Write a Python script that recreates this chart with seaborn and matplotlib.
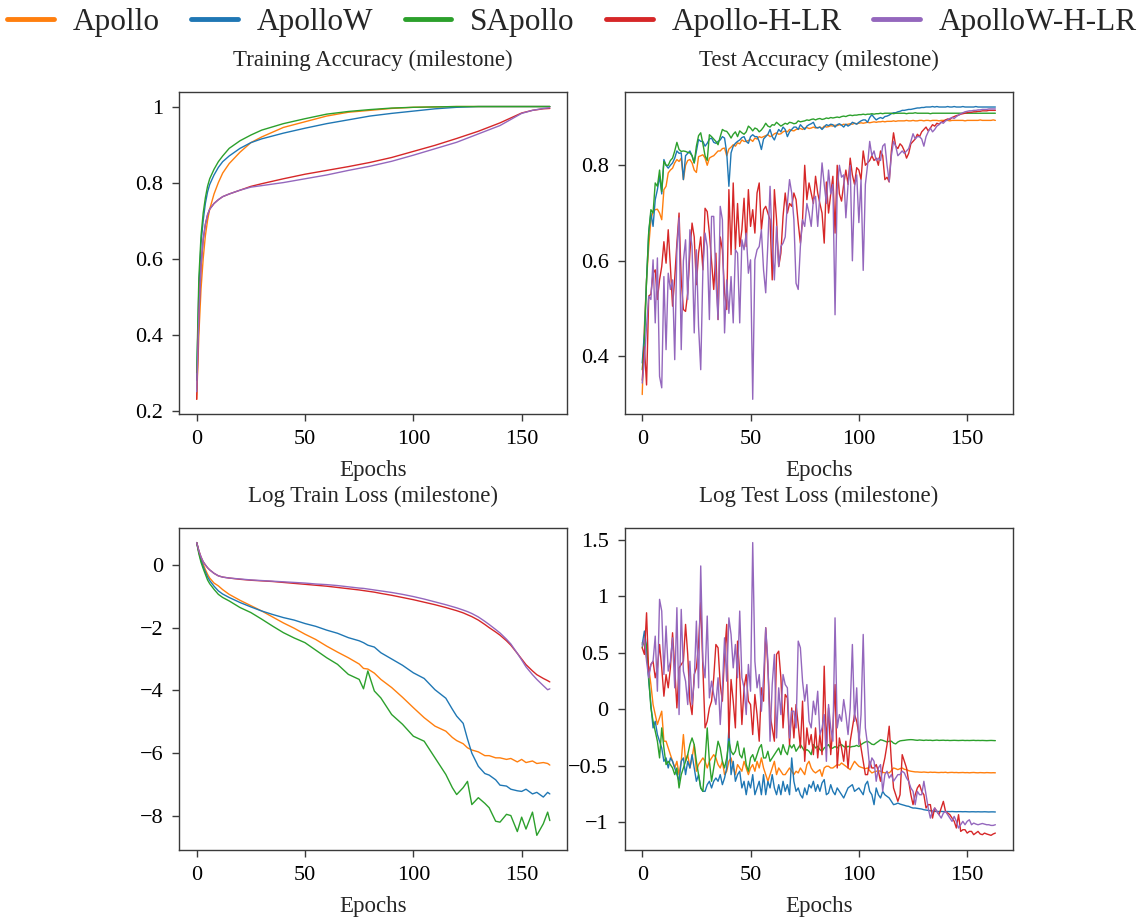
import numpy as np
import pandas as pd
import matplotlib
matplotlib.use("Agg")
import matplotlib.pyplot as plt
import seaborn as sns
from matplotlib.ticker import FuncFormatter

# ---------------- data ----------------
METHODS = ["Apollo", "ApolloW", "SApollo", "Apollo-H-LR", "ApolloW-H-LR"]
COLORS = ["#ff7f0e", "#1f77b4", "#2ca02c", "#d62728", "#9467bd"]

EPOCHS = list(range(164))

# Training accuracy (sampled epochs)
ACC_EP = [0, 1, 2, 3, 4, 5, 6, 8, 10, 12, 15, 20, 25, 30, 40, 50, 60, 70, 80, 90, 100,
          110, 120, 130, 140, 150, 155, 160, 163]
TRAIN_ACC_APOLLO = [0.23, 0.40, 0.52, 0.60, 0.66, 0.70, 0.73, 0.77, 0.80, 0.825, 0.85,
                    0.88, 0.905, 0.92, 0.945, 0.96, 0.975, 0.985, 0.99, 0.995, 0.998,
                    0.999, 1.0, 1.0, 1.0, 1.0, 1.0, 1.0, 1.0]
TRAIN_ACC_APOLLOW = [0.28, 0.52, 0.64, 0.70, 0.745, 0.775, 0.795, 0.82, 0.84, 0.855, 0.87,
                     0.89, 0.905, 0.915, 0.93, 0.943, 0.955, 0.965, 0.975, 0.982, 0.988,
                     0.994, 0.998, 1.0, 1.0, 1.0, 1.0, 1.0, 1.0]
TRAIN_ACC_SAPOLLO = [0.30, 0.55, 0.66, 0.72, 0.76, 0.79, 0.81, 0.835, 0.855, 0.87, 0.89,
                     0.91, 0.925, 0.938, 0.955, 0.968, 0.98, 0.987, 0.992, 0.996, 0.998,
                     0.999, 1.0, 1.0, 1.0, 1.0, 1.0, 1.0, 1.0]
TRAIN_ACC_HLR = [0.23, 0.45, 0.58, 0.65, 0.69, 0.715, 0.73, 0.745, 0.755, 0.763, 0.77,
                 0.78, 0.79, 0.797, 0.81, 0.822, 0.832, 0.842, 0.853, 0.866, 0.882,
                 0.898, 0.916, 0.935, 0.957, 0.983, 0.99, 0.994, 0.995]
TRAIN_ACC_WHLR = [0.25, 0.45, 0.58, 0.65, 0.69, 0.715, 0.73, 0.745, 0.755, 0.763, 0.77,
                  0.78, 0.788, 0.792, 0.80, 0.81, 0.82, 0.832, 0.843, 0.856, 0.872,
                  0.889, 0.906, 0.928, 0.95, 0.982, 0.99, 0.995, 0.997]

# Test accuracy (every epoch)
TEST_ACC_APOLLO = [
    0.32, 0.463, 0.56, 0.63, 0.686, 0.704, 0.707, 0.708, 0.70, 0.686,
    0.749, 0.756, 0.784, 0.79, 0.794, 0.805, 0.812, 0.808, 0.815, 0.77,
    0.80, 0.81, 0.812, 0.805, 0.79, 0.785, 0.818, 0.82, 0.822, 0.815,
    0.80, 0.815, 0.818, 0.82, 0.825, 0.83, 0.83, 0.835, 0.836, 0.82,
    0.834, 0.838, 0.843, 0.84, 0.847, 0.845, 0.853, 0.85, 0.85, 0.852,
    0.854, 0.85, 0.857, 0.855, 0.86, 0.858, 0.86, 0.862, 0.864, 0.86,
    0.862, 0.866, 0.868, 0.865, 0.866, 0.87, 0.872, 0.87, 0.875, 0.873,
    0.872, 0.875, 0.876, 0.877, 0.875, 0.878, 0.879, 0.877, 0.878, 0.88,
    0.878, 0.879, 0.88, 0.877, 0.882, 0.88, 0.881, 0.883, 0.882, 0.884,
    0.883, 0.885, 0.884, 0.886, 0.885, 0.886, 0.887, 0.886, 0.888, 0.887,
    0.888, 0.889, 0.888, 0.889, 0.89, 0.889, 0.89, 0.891, 0.89, 0.891,
    0.891, 0.892, 0.891, 0.892, 0.892, 0.892, 0.893, 0.892, 0.893, 0.893,
    0.893, 0.893, 0.894, 0.893, 0.893, 0.894, 0.893, 0.893, 0.894, 0.894,
    0.893, 0.894, 0.894, 0.893, 0.894, 0.894, 0.894, 0.893, 0.894, 0.894,
    0.894, 0.894, 0.893, 0.894, 0.894, 0.894, 0.894, 0.894, 0.894, 0.893,
    0.894, 0.894, 0.894, 0.894, 0.894, 0.894, 0.895, 0.894, 0.894, 0.894,
    0.894, 0.894, 0.895, 0.894]
TEST_ACC_APOLLOW = [
    0.386, 0.45, 0.56, 0.66, 0.70, 0.672, 0.728, 0.749, 0.777, 0.74,
    0.812, 0.80, 0.794, 0.80, 0.805, 0.815, 0.83, 0.825, 0.826, 0.77,
    0.82, 0.825, 0.83, 0.82, 0.805, 0.83, 0.854, 0.85, 0.85, 0.84,
    0.846, 0.855, 0.857, 0.848, 0.846, 0.85, 0.853, 0.86, 0.857, 0.826,
    0.756, 0.826, 0.84, 0.846, 0.85, 0.853, 0.858, 0.86, 0.85, 0.846,
    0.86, 0.864, 0.86, 0.86, 0.85, 0.833, 0.855, 0.86, 0.865, 0.875,
    0.86, 0.853, 0.865, 0.875, 0.87, 0.88, 0.875, 0.86, 0.87, 0.875,
    0.88, 0.88, 0.875, 0.885, 0.88, 0.875, 0.882, 0.885, 0.887, 0.89,
    0.88, 0.878, 0.88, 0.875, 0.88, 0.885, 0.883, 0.886, 0.885, 0.88,
    0.885, 0.887, 0.884, 0.88, 0.886, 0.882, 0.885, 0.89, 0.888, 0.886,
    0.89, 0.893, 0.895, 0.895, 0.89, 0.90, 0.906, 0.90, 0.895, 0.898,
    0.90, 0.898, 0.902, 0.903, 0.905, 0.908, 0.91, 0.91, 0.912, 0.913,
    0.915, 0.915, 0.916, 0.917, 0.917, 0.918, 0.919, 0.92, 0.92, 0.921,
    0.921, 0.922, 0.922, 0.922, 0.923, 0.922, 0.923, 0.922, 0.922, 0.922,
    0.922, 0.923, 0.922, 0.922, 0.923, 0.922, 0.922, 0.922, 0.923, 0.922,
    0.922, 0.922, 0.922, 0.922, 0.923, 0.922, 0.922, 0.922, 0.922, 0.922,
    0.922, 0.922, 0.922, 0.922]
TEST_ACC_SAPOLLO = [
    0.372, 0.43, 0.56, 0.66, 0.707, 0.70, 0.763, 0.756, 0.79, 0.745,
    0.808, 0.80, 0.80, 0.81, 0.815, 0.83, 0.848, 0.833, 0.829, 0.83,
    0.829, 0.827, 0.826, 0.82, 0.805, 0.84, 0.862, 0.868, 0.845, 0.82,
    0.81, 0.864, 0.86, 0.855, 0.85, 0.843, 0.86, 0.875, 0.872, 0.871,
    0.865, 0.857, 0.865, 0.87, 0.86, 0.872, 0.868, 0.865, 0.87, 0.882,
    0.878, 0.872, 0.878, 0.876, 0.87, 0.874, 0.88, 0.888, 0.882, 0.88,
    0.885, 0.884, 0.89, 0.886, 0.882, 0.885, 0.888, 0.886, 0.89, 0.889,
    0.887, 0.888, 0.893, 0.891, 0.892, 0.893, 0.895, 0.894, 0.896, 0.897,
    0.895, 0.897, 0.898, 0.896, 0.897, 0.899, 0.898, 0.90, 0.899, 0.90,
    0.901, 0.90, 0.902, 0.903, 0.902, 0.904, 0.905, 0.904, 0.905, 0.905,
    0.906, 0.906, 0.907, 0.906, 0.907, 0.907, 0.908, 0.907, 0.908, 0.908,
    0.909, 0.908, 0.909, 0.909, 0.909, 0.909, 0.908, 0.909, 0.909, 0.909,
    0.909, 0.909, 0.908, 0.909, 0.909, 0.909, 0.91, 0.909, 0.909, 0.909,
    0.909, 0.909, 0.909, 0.908, 0.909, 0.909, 0.909, 0.909, 0.909, 0.909,
    0.909, 0.909, 0.909, 0.909, 0.909, 0.909, 0.909, 0.909, 0.909, 0.909,
    0.909, 0.909, 0.909, 0.909, 0.909, 0.909, 0.909, 0.909, 0.909, 0.909,
    0.909, 0.909, 0.909, 0.909]
TEST_ACC_HLR = [
    0.35, 0.42, 0.34, 0.526, 0.53, 0.574, 0.581, 0.519, 0.56, 0.588,
    0.64, 0.595, 0.665, 0.588, 0.505, 0.564, 0.637, 0.70, 0.56, 0.498,
    0.494, 0.533, 0.616, 0.679, 0.65, 0.55, 0.616, 0.65, 0.581, 0.71,
    0.703, 0.658, 0.60, 0.54, 0.616, 0.477, 0.65, 0.623, 0.533, 0.498,
    0.749, 0.613, 0.763, 0.623, 0.72, 0.63, 0.665, 0.731, 0.63, 0.749,
    0.672, 0.707, 0.658, 0.742, 0.763, 0.665, 0.707, 0.714, 0.70, 0.686,
    0.56, 0.749, 0.686, 0.588, 0.616, 0.693, 0.742, 0.70, 0.72, 0.714,
    0.742, 0.728, 0.679, 0.637, 0.686, 0.80, 0.728, 0.763, 0.742, 0.72,
    0.777, 0.742, 0.72, 0.70, 0.637, 0.765, 0.70, 0.74, 0.777, 0.658,
    0.80, 0.74, 0.725, 0.76, 0.79, 0.76, 0.815, 0.78, 0.76, 0.795,
    0.79, 0.77, 0.83, 0.80, 0.805, 0.81, 0.82, 0.81, 0.815, 0.80,
    0.83, 0.82, 0.77, 0.775, 0.765, 0.83, 0.868, 0.84, 0.835, 0.845,
    0.84, 0.83, 0.815, 0.825, 0.845, 0.85, 0.855, 0.865, 0.86, 0.87,
    0.875, 0.88, 0.872, 0.878, 0.885, 0.882, 0.888, 0.886, 0.89, 0.892,
    0.895, 0.897, 0.896, 0.90, 0.902, 0.904, 0.905, 0.907, 0.908, 0.909,
    0.91, 0.911, 0.911, 0.912, 0.912, 0.913, 0.913, 0.914, 0.914, 0.914,
    0.915, 0.915, 0.915, 0.915]
TEST_ACC_WHLR = [
    0.344, 0.393, 0.463, 0.526, 0.519, 0.602, 0.47, 0.606, 0.358, 0.334,
    0.567, 0.414, 0.574, 0.54, 0.56, 0.393, 0.623, 0.69, 0.414, 0.60,
    0.644, 0.519, 0.665, 0.63, 0.449, 0.623, 0.463, 0.372, 0.581, 0.658,
    0.63, 0.477, 0.693, 0.693, 0.56, 0.477, 0.714, 0.686, 0.449, 0.56,
    0.49, 0.567, 0.47, 0.623, 0.616, 0.47, 0.644, 0.623, 0.658, 0.574,
    0.602, 0.31, 0.602, 0.623, 0.63, 0.665, 0.581, 0.533, 0.637, 0.756,
    0.637, 0.56, 0.672, 0.588, 0.63, 0.637, 0.65, 0.72, 0.77, 0.742,
    0.686, 0.553, 0.54, 0.63, 0.686, 0.672, 0.72, 0.70, 0.672, 0.728,
    0.735, 0.672, 0.74, 0.805, 0.76, 0.72, 0.79, 0.74, 0.76, 0.487,
    0.75, 0.80, 0.775, 0.78, 0.69, 0.76, 0.80, 0.60, 0.755, 0.78,
    0.68, 0.77, 0.58, 0.76, 0.80, 0.85, 0.82, 0.83, 0.81, 0.815,
    0.81, 0.84, 0.845, 0.80, 0.766, 0.82, 0.85, 0.84, 0.82, 0.825,
    0.83, 0.825, 0.83, 0.835, 0.85, 0.866, 0.855, 0.86, 0.86, 0.855,
    0.84, 0.86, 0.87, 0.878, 0.87, 0.875, 0.882, 0.885, 0.89, 0.888,
    0.893, 0.895, 0.898, 0.90, 0.898, 0.902, 0.905, 0.908, 0.91, 0.912,
    0.913, 0.914, 0.914, 0.915, 0.915, 0.916, 0.916, 0.917, 0.917, 0.917,
    0.918, 0.918, 0.918, 0.918]

# Log train loss (sampled epochs)
LOSS_EP = [0, 1, 2, 3, 4, 5, 6, 8, 10, 12, 15, 20, 25, 30, 35, 40, 45, 50, 55, 60, 65, 70,
           75, 77, 79, 82, 85, 90, 95, 100, 105, 110, 115, 118, 120, 123, 125, 127, 130,
           133, 135, 138, 140, 143, 145, 148, 150, 152, 155, 157, 160, 162, 163]
TRAIN_LOSS_APOLLO = [0.71, 0.42, 0.2, 0.02, -0.15, -0.30, -0.42, -0.58, -0.67, -0.79, -0.94,
                     -1.13, -1.3, -1.47, -1.66, -1.85, -2.02, -2.21, -2.38, -2.59, -2.78,
                     -2.96, -3.16, -3.3, -3.32, -3.45, -3.65, -3.91, -4.22, -4.55, -4.87,
                     -5.14, -5.3, -5.5, -5.6, -5.7, -5.83, -5.9, -5.96, -6.08, -6.08, -6.15,
                     -6.15, -6.2, -6.17, -6.28, -6.2, -6.3, -6.25, -6.33, -6.3, -6.33, -6.38]
TRAIN_LOSS_APOLLOW = [0.71, 0.40, 0.15, -0.05, -0.22, -0.38, -0.50, -0.68, -0.83, -0.93, -1.04,
                      -1.2, -1.34, -1.47, -1.58, -1.68, -1.76, -1.87, -1.96, -2.08, -2.18,
                      -2.32, -2.42, -2.48, -2.56, -2.62, -2.8, -3.0, -3.2, -3.44, -3.62,
                      -3.98, -4.25, -4.6, -4.82, -5.05, -5.55, -6.0, -6.42, -6.65, -6.7,
                      -6.85, -7.02, -7.05, -7.15, -7.2, -7.22, -7.15, -7.3, -7.25, -7.4,
                      -7.25, -7.3]
TRAIN_LOSS_SAPOLLO = [0.71, 0.35, 0.08, -0.12, -0.3, -0.48, -0.6, -0.78, -0.94, -1.04, -1.15,
                      -1.36, -1.52, -1.73, -1.95, -2.16, -2.33, -2.48, -2.72, -2.96, -3.17,
                      -3.49, -3.65, -3.95, -3.38, -4.02, -4.24, -4.77, -5.08, -5.46, -5.62,
                      -6.15, -6.68, -7.1, -7.32, -7.1, -6.9, -7.64, -7.42, -7.6, -7.74,
                      -8.17, -8.2, -7.95, -7.99, -8.5, -8.04, -8.42, -7.88, -8.62, -8.25,
                      -7.88, -8.15]
TRAIN_LOSS_HLR = [0.71, 0.45, 0.25, 0.10, 0.0, -0.09, -0.16, -0.27, -0.35, -0.39, -0.42,
                  -0.46, -0.49, -0.51, -0.53, -0.56, -0.59, -0.62, -0.65, -0.68, -0.72,
                  -0.76, -0.80, -0.82, -0.84, -0.87, -0.91, -0.97, -1.04, -1.11, -1.19,
                  -1.27, -1.36, -1.42, -1.46, -1.53, -1.59, -1.65, -1.76, -1.90, -2.0,
                  -2.14, -2.24, -2.42, -2.56, -2.82, -3.0, -3.18, -3.38, -3.5, -3.62,
                  -3.69, -3.73]
TRAIN_LOSS_WHLR = [0.71, 0.45, 0.25, 0.10, 0.0, -0.09, -0.16, -0.27, -0.35, -0.39, -0.42,
                   -0.45, -0.48, -0.50, -0.52, -0.54, -0.56, -0.58, -0.61, -0.63, -0.66,
                   -0.70, -0.74, -0.75, -0.77, -0.80, -0.83, -0.88, -0.94, -1.01, -1.09,
                   -1.18, -1.27, -1.33, -1.37, -1.44, -1.49, -1.55, -1.66, -1.80, -1.90,
                   -2.06, -2.17, -2.37, -2.52, -2.82, -3.03, -3.25, -3.5, -3.65, -3.85,
                   -3.98, -3.95]

# Log test loss (every epoch)
TEST_LOSS_APOLLO = [
    0.589, 0.574, 0.456, 0.367, 0.219, 0.042, -0.047, -0.135, -0.076, -0.017,
    -0.283, -0.283, -0.343, -0.402, -0.461, -0.52, -0.461, -0.579, -0.461, -0.224,
    -0.461, -0.402, -0.52, -0.431, -0.313, -0.549, -0.49, -0.461, -0.431, -0.461,
    -0.52, -0.461, -0.431, -0.402, -0.431, -0.49, -0.52, -0.461, -0.579, -0.549,
    -0.461, -0.431, -0.52, -0.579, -0.49, -0.52, -0.549, -0.461, -0.52, -0.579,
    -0.52, -0.49, -0.549, -0.461, -0.52, -0.431, -0.52, -0.579, -0.638, -0.579,
    -0.52, -0.461, -0.579, -0.52, -0.549, -0.579, -0.579, -0.549, -0.52, -0.549,
    -0.579, -0.549, -0.564, -0.52, -0.549, -0.579, -0.49, -0.461, -0.52, -0.549,
    -0.564, -0.549, -0.535, -0.594, -0.52, -0.505, -0.505, -0.52, -0.52, -0.505,
    -0.49, -0.496, -0.476, -0.49, -0.505, -0.52, -0.535, -0.496, -0.461, -0.484,
    -0.505, -0.514, -0.52, -0.526, -0.52, -0.544, -0.564, -0.555, -0.549, -0.544,
    -0.549, -0.558, -0.564, -0.558, -0.564, -0.544, -0.52, -0.526, -0.535, -0.526,
    -0.52, -0.532, -0.535, -0.544, -0.549, -0.552, -0.555, -0.555, -0.557, -0.558,
    -0.556, -0.558, -0.56, -0.557, -0.559, -0.558, -0.56, -0.561, -0.559, -0.56,
    -0.558, -0.562, -0.56, -0.559, -0.561, -0.56, -0.562, -0.561, -0.56, -0.562,
    -0.561, -0.563, -0.561, -0.56, -0.562, -0.563, -0.561, -0.562, -0.563, -0.561,
    -0.562, -0.563, -0.562, -0.563]
TEST_LOSS_APOLLOW = [
    0.574, 0.693, 0.545, 0.249, 0.042, -0.165, -0.106, -0.224, -0.283, -0.343,
    -0.461, -0.431, -0.52, -0.431, -0.461, -0.52, -0.579, -0.638, -0.461, -0.431,
    -0.579, -0.461, -0.52, -0.402, -0.52, -0.638, -0.579, -0.697, -0.727, -0.727,
    -0.668, -0.638, -0.697, -0.638, -0.609, -0.638, -0.579, -0.668, -0.609, -0.52,
    -0.165, -0.579, -0.461, -0.638, -0.579, -0.549, -0.697, -0.638, -0.757, -0.638,
    -0.697, -0.579, -0.757, -0.697, -0.638, -0.757, -0.579, -0.757, -0.638, -0.697,
    -0.579, -0.697, -0.757, -0.668, -0.757, -0.638, -0.727, -0.668, -0.757, -0.431,
    -0.638, -0.727, -0.697, -0.757, -0.786, -0.697, -0.757, -0.668, -0.697, -0.638,
    -0.727, -0.668, -0.727, -0.653, -0.623, -0.757, -0.742, -0.668, -0.727, -0.757,
    -0.697, -0.727, -0.757, -0.786, -0.742, -0.697, -0.683, -0.668, -0.727, -0.712,
    -0.697, -0.727, -0.757, -0.668, -0.638, -0.727, -0.757, -0.845, -0.697, -0.757,
    -0.786, -0.727, -0.757, -0.771, -0.786, -0.816, -0.845, -0.84, -0.831, -0.84,
    -0.845, -0.851, -0.857, -0.86, -0.869, -0.875, -0.875, -0.878, -0.881, -0.884,
    -0.89, -0.893, -0.896, -0.899, -0.902, -0.905, -0.905, -0.906, -0.905, -0.907,
    -0.906, -0.906, -0.907, -0.906, -0.907, -0.908, -0.907, -0.907, -0.908, -0.907,
    -0.908, -0.909, -0.908, -0.908, -0.909, -0.908, -0.909, -0.909, -0.908, -0.909,
    -0.91, -0.909, -0.909, -0.91]
TEST_LOSS_SAPOLLO = [
    0.545, 0.633, 0.559, 0.279, 0.012, -0.106, -0.195, -0.283, -0.431, -0.165,
    -0.343, -0.49, -0.461, -0.49, -0.52, -0.579, -0.52, -0.697, -0.579, -0.52,
    -0.461, -0.402, -0.313, -0.254, -0.313, -0.461, -0.579, -0.697, -0.727, -0.461,
    -0.165, -0.461, -0.638, -0.52, -0.402, -0.283, -0.343, -0.461, -0.52, -0.431,
    -0.283, -0.372, -0.402, -0.372, -0.283, -0.402, -0.431, -0.343, -0.49, -0.549,
    -0.431, -0.402, -0.461, -0.402, -0.343, -0.313, -0.431, -0.431, -0.372, -0.461,
    -0.431, -0.402, -0.372, -0.343, -0.402, -0.313, -0.372, -0.402, -0.313, -0.343,
    -0.313, -0.372, -0.343, -0.313, -0.343, -0.372, -0.357, -0.372, -0.402, -0.313,
    -0.343, -0.328, -0.357, -0.372, -0.343, -0.328, -0.313, -0.35, -0.343, -0.33,
    -0.343, -0.32, -0.313, -0.33, -0.34, -0.328, -0.335, -0.33, -0.328, -0.32,
    -0.33, -0.313, -0.3, -0.29, -0.283, -0.295, -0.31, -0.313, -0.298, -0.285,
    -0.27, -0.275, -0.283, -0.29, -0.283, -0.283, -0.3, -0.307, -0.29, -0.28,
    -0.277, -0.275, -0.272, -0.27, -0.269, -0.27, -0.273, -0.275, -0.272, -0.274,
    -0.276, -0.273, -0.275, -0.274, -0.277, -0.275, -0.273, -0.276, -0.275, -0.274,
    -0.276, -0.275, -0.277, -0.276, -0.275, -0.276, -0.277, -0.276, -0.275, -0.277,
    -0.276, -0.277, -0.276, -0.275, -0.277, -0.276, -0.277, -0.276, -0.277, -0.278,
    -0.277, -0.276, -0.277, -0.278]
TEST_LOSS_HLR = [
    0.545, 0.486, 0.855, 0.308, 0.397, 0.426, 0.279, 0.367, 0.574, 0.367,
    0.116, 0.308, 0.19, 0.367, 0.678, 0.367, 0.012, 0.367, 0.397, 0.426,
    0.752, 0.486, 0.072, -0.047, 0.308, 0.367, 0.574, 0.95, 0.367, -0.165,
    -0.106, 0.012, 0.072, 0.279, 0.574, 0.545, 0.219, 0.072, 0.486, 0.752,
    -0.254, 0.264, 0.072, -0.165, 0.604, 0.308, -0.135, 0.19, 0.308, 0.072,
    0.042, -0.224, 0.131, -0.047, -0.283, 0.19, 0.072, 0.722, 0.367, -0.047,
    -0.165, -0.283, 0.486, 0.515, 0.279, -0.165, 0.131, 0.101, -0.313, 0.012,
    -0.254, 0.042, -0.135, -0.343, 0.072, -0.461, -0.165, -0.313, -0.224, -0.402,
    -0.165, -0.431, -0.224, -0.402, 0.382, -0.313, 0.012, -0.402, -0.165, 0.219,
    -0.52, -0.254, -0.343, -0.461, -0.283, -0.52, -0.283, -0.165, -0.047, -0.106,
    -0.224, -0.343, -0.461, -0.579, -0.579, -0.461, -0.52, -0.52, -0.49, -0.549,
    -0.638, -0.52, -0.431, -0.313, -0.15, -0.461, -0.697, -0.757, -0.816, -0.757,
    -0.402, -0.461, -0.52, -0.638, -0.757, -0.845, -0.757, -0.697, -0.668, -0.727,
    -0.757, -0.875, -0.845, -0.845, -0.964, -0.875, -0.905, -0.934, -0.875, -0.816,
    -0.905, -0.92, -0.934, -0.964, -0.993, -1.052, -0.934, -1.082, -1.067, -1.067,
    -1.097, -1.082, -1.082, -1.111, -1.097, -1.082, -1.105, -1.111, -1.097, -1.105,
    -1.111, -1.117, -1.105, -1.097]
TEST_LOSS_WHLR = [
    0.559, 0.633, 0.426, 0.279, 0.397, 0.426, 0.648, 0.16, 0.974, 0.87,
    0.308, 0.737, 0.338, 0.426, 0.633, 0.19, 0.90, -0.047, 0.885, 0.338,
    0.249, 0.042, 0.426, 0.042, 0.249, 0.781, 0.19, 1.27, 0.426, 0.279,
    0.826, 0.101, 0.249, 0.131, 0.042, 0.279, -0.135, 0.19, 0.633, 0.249,
    0.81, 0.663, 0.367, 0.574, 0.279, 0.87, 0.279, 0.19, -0.047, 0.397,
    0.16, 1.477, 0.426, 0.19, 0.308, -0.017, 0.279, 0.722, 0.426, -0.283,
    0.219, 0.486, -0.254, 0.19, -0.047, 0.308, 0.219, 0.19, -0.254, -0.017,
    -0.017, -0.165, 0.604, 0.545, 0.249, 0.072, 0.219, -0.106, -0.165, 0.072,
    -0.047, 0.16, -0.224, -0.165, -0.047, -0.461, 0.042, -0.165, -0.283, 0.81,
    -0.165, -0.047, -0.106, 0.086, -0.047, -0.224, 0.012, 0.574, -0.106, 0.19,
    -0.313, -0.047, 0.663, -0.165, -0.313, -0.52, -0.431, -0.461, -0.638, -0.52,
    -0.49, -0.727, -0.579, -0.549, -0.609, -0.579, -0.638, -0.609, -0.579, -0.579,
    -0.549, -0.564, -0.609, -0.638, -0.697, -0.727, -0.845, -0.727, -0.757, -0.757,
    -0.638, -0.757, -0.875, -0.964, -0.905, -0.875, -0.905, -0.934, -0.964, -0.92,
    -0.905, -0.934, -0.964, -0.993, -0.949, -0.993, -1.052, -1.023, -0.993, -1.023,
    -0.993, -0.979, -1.023, -1.008, -1.017, -1.023, -1.017, -1.012, -1.017, -1.023,
    -1.023, -1.029, -1.029, -1.023]

TITLES = ["Training Accuracy (milestone)", "Test Accuracy (milestone)",
          "Log Train Loss (milestone)", "Log Test Loss (milestone)"]
XTICKS = [0, 50, 100, 150]
YTICKS = [[0.2, 0.4, 0.6, 0.8, 1.0], [0.4, 0.6, 0.8],
          [0, -2, -4, -6, -8], [-1, -0.5, 0, 0.5, 1, 1.5]]


def long_frame(epochs, series):
    rows = []
    for name, vals in zip(METHODS, series):
        assert len(vals) == len(epochs), (name, len(vals), len(epochs))
        rows.append(pd.DataFrame({"Epoch": epochs, "Value": vals, "Method": name}))
    return pd.concat(rows, ignore_index=True)


panels = [
    long_frame(ACC_EP, [TRAIN_ACC_APOLLO, TRAIN_ACC_APOLLOW, TRAIN_ACC_SAPOLLO,
                        TRAIN_ACC_HLR, TRAIN_ACC_WHLR]),
    long_frame(EPOCHS, [TEST_ACC_APOLLO, TEST_ACC_APOLLOW, TEST_ACC_SAPOLLO,
                        TEST_ACC_HLR, TEST_ACC_WHLR]),
    long_frame(LOSS_EP, [TRAIN_LOSS_APOLLO, TRAIN_LOSS_APOLLOW, TRAIN_LOSS_SAPOLLO,
                         TRAIN_LOSS_HLR, TRAIN_LOSS_WHLR]),
    long_frame(EPOCHS, [TEST_LOSS_APOLLO, TEST_LOSS_APOLLOW, TEST_LOSS_SAPOLLO,
                        TEST_LOSS_HLR, TEST_LOSS_WHLR]),
]

# ---------------- style ----------------
sns.set_theme(style="ticks")
plt.rcParams["font.family"] = ["Liberation Serif", "DejaVu Serif"]
plt.rcParams["axes.edgecolor"] = "#3a3a3a"
plt.rcParams["axes.linewidth"] = 1.0
plt.rcParams["xtick.color"] = "#3a3a3a"
plt.rcParams["ytick.color"] = "#3a3a3a"
plt.rcParams["xtick.labelcolor"] = "black"
plt.rcParams["ytick.labelcolor"] = "black"


def fmt(v, pos):
    s = f"{v:g}"
    return s.replace("-", "\u2212")


fig, axes = plt.subplots(2, 2, figsize=(11.44, 9.19), dpi=100)
fig.subplots_adjust(left=0.1565, right=0.8855, top=0.9, bottom=0.0751,
                    wspace=0.147, hspace=0.354)

palette = dict(zip(METHODS, COLORS))
for i, (ax, df) in enumerate(zip(axes.flat, panels)):
    sns.lineplot(data=df, x="Epoch", y="Value", hue="Method", hue_order=METHODS,
                 palette=palette, linewidth=1.0, estimator=None, errorbar=None,
                 legend=(i == 0), ax=ax)
    ax.set_title(TITLES[i], fontsize=16.5, pad=19)
    ax.set_xlabel("Epochs", fontsize=16.5, labelpad=8)
    ax.set_ylabel("")
    ax.set_xticks(XTICKS)
    ax.set_yticks(YTICKS[i])
    ax.yaxis.set_major_formatter(FuncFormatter(fmt))
    ax.xaxis.set_major_formatter(FuncFormatter(fmt))
    ax.tick_params(labelsize=16, length=5, width=1.0, pad=6.5)

handles, labels = axes[0, 0].get_legend_handles_labels()
axes[0, 0].get_legend().remove()
leg = fig.legend(handles, labels, loc="upper center", bbox_to_anchor=(0.5, 1.022),
                 ncol=5, frameon=False, fontsize=22.5, handlelength=1.5,
                 handletextpad=0.6, columnspacing=1.0)
for h in leg.get_lines():
    h.set_linewidth(3.5)

fig.savefig("out.png", dpi=100)
